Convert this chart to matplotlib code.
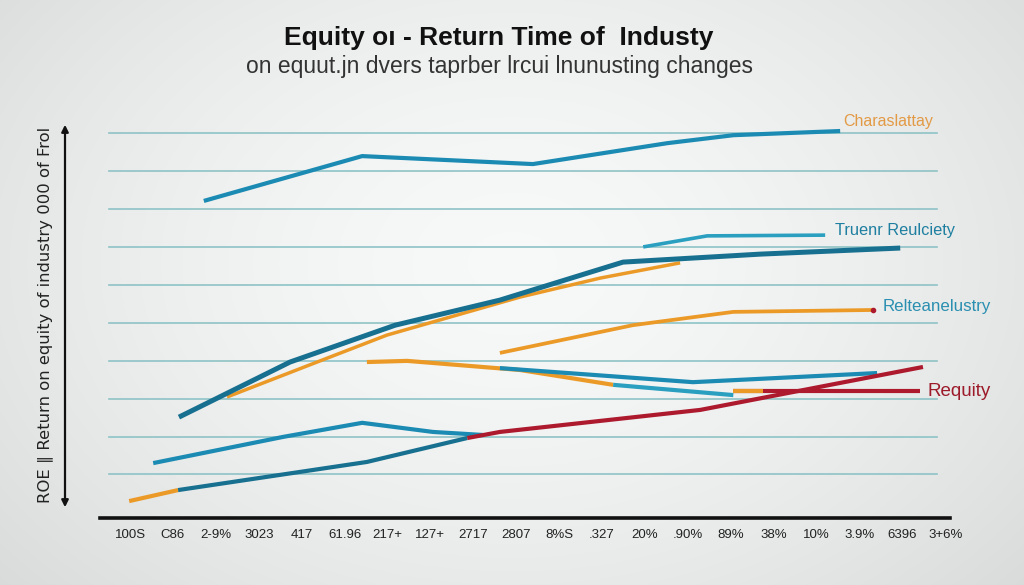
import numpy as np
import matplotlib
matplotlib.use("Agg")
import matplotlib.pyplot as plt

# ---------------- data ----------------
x_labels = ["100S", "C86", "2-9%", "3023", "417", "61.96", "217+", "127+", "2717", "2807",
            "8%S", ".327", "20%", ".90%", "89%", "38%", "10%", "3.9%", "6396", "3+6%"]

charas_x = [1.72, 5.41, 9.39, 12.52, 14.06, 16.55]
charas_y = [7.20, 8.38, 8.17, 8.72, 8.93, 9.04]

truenr_x = [1.14, 3.73, 6.18, 8.62, 11.49, 14.69, 17.95]
truenr_y = [1.51, 2.96, 3.93, 4.59, 5.59, 5.80, 5.96]

truenr2_x = [11.96, 13.45, 16.20]
truenr2_y = [5.99, 6.28, 6.30]

orange1_x = [2.26, 4.36, 5.99, 9.09, 10.96, 12.82]
orange1_y = [2.04, 2.96, 3.67, 4.67, 5.17, 5.57]

relte_x = [8.62, 11.72, 14.06, 17.32]
relte_y = [3.20, 3.93, 4.28, 4.33]

orange2_x = [5.52, 6.46, 9.09, 11.26]
orange2_y = [2.96, 2.99, 2.75, 2.36]

teal2_x = [11.26, 14.06]
teal2_y = [2.36, 2.09]

requity_flat_x = [14.06, 18.41]
requity_flat_y = [2.20, 2.20]

teal3_x = [8.62, 13.12, 17.41]
teal3_y = [2.80, 2.43, 2.67]

teal4_x = [0.54, 3.57, 5.41, 7.06, 8.23]
teal4_y = [0.30, 0.99, 1.36, 1.12, 1.04]

orange3_x = [-0.02, 1.12]
orange3_y = [-0.70, -0.41]

dark_x = [1.12, 5.52, 7.86]
dark_y = [-0.41, 0.33, 0.96]

red_x = [7.86, 8.62, 13.29, 18.48]
red_y = [0.96, 1.12, 1.70, 2.83]

grid_levels = list(range(10))

# ---------------- figure ----------------
W, H = 1024, 585
fig = plt.figure(figsize=(W / 100, H / 100), dpi=100)

# radial light-grey background
bg = fig.add_axes([0, 0, 1, 1], zorder=-10)
yy, xx = np.mgrid[0:H, 0:W]
r = np.sqrt(((xx - W * 0.5) / (W * 0.6)) ** 2 + ((yy - H * 0.45) / (H * 0.75)) ** 2)
val = np.clip(0.975 - 0.10 * r ** 1.6, 0.84, 1)
img = np.dstack([val * 0.995, val, val * 1.0])
bg.imshow(img, aspect="auto", extent=[0, 1, 0, 1])
bg.axis("off")

# axes placed in pixel terms: x 100..950, y 120..518
ax = fig.add_axes([100 / W, 1 - 518 / H, 850 / W, 398 / H])
ax.set_facecolor("none")
ax.set_xlim(-0.70, 19.11)
ax.set_ylim(-1.145, 9.33)

for s in ["top", "right", "left"]:
    ax.spines[s].set_visible(False)
ax.spines["bottom"].set_linewidth(2.6)
ax.spines["bottom"].set_color("#111111")

# grid lines
for g in grid_levels:
    ax.plot([-0.49, 18.8], [g, g], color="#8ec3c6", lw=1.2, zorder=1)

lw = 3.0
teal = "#1b8bb3"
dteal = "#17708f"
lteal = "#2a9fc0"
orange = "#eb9a28"
red = "#ad1a2e"

ax.plot(charas_x, charas_y, color=teal, lw=lw, solid_capstyle="butt", zorder=3)
ax.plot(truenr_x, truenr_y, color=dteal, lw=lw + 0.6, solid_capstyle="butt", zorder=3)
ax.plot(truenr2_x, truenr2_y, color=lteal, lw=lw - 0.4, solid_capstyle="butt", zorder=3)
ax.plot(orange1_x, orange1_y, color=orange, lw=lw - 0.5, solid_capstyle="butt", zorder=2.5)
ax.plot(relte_x, relte_y, color=orange, lw=lw - 0.3, solid_capstyle="butt", zorder=3)
ax.plot([relte_x[-1]], [relte_y[-1]], "o", color=red, ms=3, zorder=4)
ax.plot(orange2_x, orange2_y, color=orange, lw=lw, solid_capstyle="butt", zorder=3)
ax.plot(teal2_x, teal2_y, color=lteal, lw=lw, solid_capstyle="butt", zorder=3)
ax.plot(requity_flat_x, requity_flat_y, color=red, lw=lw, solid_capstyle="butt", zorder=3)
ax.plot(requity_flat_x[:1] + [requity_flat_x[0] + 0.7], requity_flat_y, color=orange, lw=lw,
        solid_capstyle="butt", zorder=3.1)
ax.plot(teal3_x, teal3_y, color=teal, lw=lw, solid_capstyle="butt", zorder=3)
ax.plot(teal4_x, teal4_y, color=teal, lw=lw, solid_capstyle="butt", zorder=3)
ax.plot(orange3_x, orange3_y, color=orange, lw=lw, solid_capstyle="butt", zorder=3)
ax.plot(dark_x, dark_y, color=dteal, lw=lw, solid_capstyle="butt", zorder=3)
ax.plot(red_x, red_y, color=red, lw=lw, solid_capstyle="butt", zorder=3.2)

lab_font = ["Liberation Sans", "DejaVu Sans"]
# series labels
ax.text(16.62, 9.30, "Charaslattay", color="#e39a45", fontsize=11.5, ha="left", va="center",
        family=lab_font)
ax.text(16.42, 6.42, "Truenr Reulciety", color="#1e7fa0", fontsize=11.8, ha="left", va="center",
        family=lab_font)
ax.text(17.55, 4.42, "Relteanelustry", color="#2a8fb0", fontsize=12.2, ha="left", va="center",
        family=lab_font)
ax.text(18.58, 2.18, "Requity", color="#9c1a2a", fontsize=13.5, ha="left", va="center",
        family=lab_font)

# x tick labels
ax.set_xticks(range(len(x_labels)))
ax.set_xticklabels(x_labels, fontsize=9.5, color="#222222",
                   family=["Liberation Sans Narrow", "Liberation Sans", "DejaVu Sans"])
ax.tick_params(axis="x", length=0, pad=8)
ax.set_yticks([])

# y axis arrow
fig.patches.append(matplotlib.patches.FancyArrowPatch(
    (65 / W, 1 - 510 / H), (65 / W, 1 - 122 / H), transform=fig.transFigure,
    arrowstyle="<|-|>", mutation_scale=10, color="#111111", lw=1.6))

fig.text(45 / W, 1 - 315 / H, "ROE ∥ Return on equity of industry 000 of Frol",
         rotation=90, ha="center", va="center", fontsize=11.8, color="#222222")

# titles
fig.text(499 / W, 1 - 38 / H, "Equity oı - Return Time of  Industy", ha="center", va="center",
         fontsize=19, fontweight="bold", color="#111111", family=lab_font)
fig.text(500 / W, 1 - 67 / H, "on equut.jn dvers taprber lrcui lnunusting changes", ha="center",
         va="center", fontsize=16.5, color="#333333", family=lab_font)

fig.savefig("out.png", dpi=100)
